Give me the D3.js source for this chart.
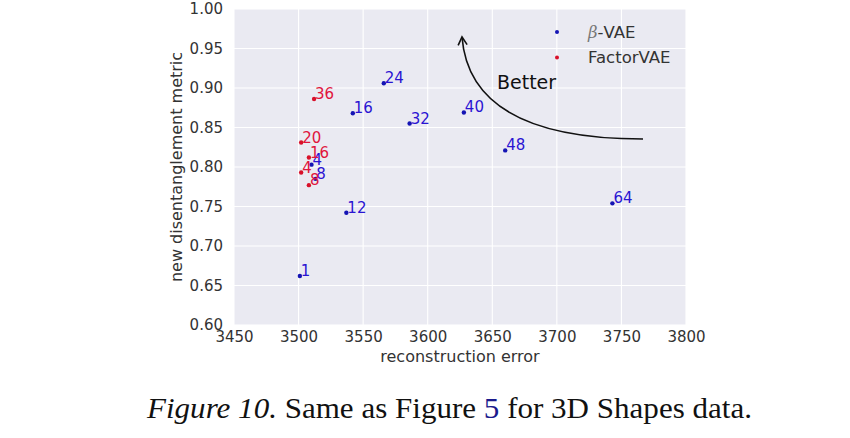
<!DOCTYPE html>
<html>
<head>
<meta charset="utf-8">
<script src="https://cdn.jsdelivr.net/npm/d3@7"></script>
<style>
  body { margin: 0; background: #fff; }
  svg { display: block; }
</style>
</head>
<body>
<div id="chart"></div>
<script>
// beta-VAE points: beta value, reconstruction error, metric
var beta_labels = ["1", "4", "8", "12", "16", "24", "32", "40", "48", "64"];
var beta_x = [3501, 3510, 3513, 3537, 3542, 3566, 3586, 3628, 3660, 3743];
var beta_y = [0.662, 0.803, 0.785, 0.742, 0.868, 0.906, 0.855, 0.869, 0.821, 0.754];

// FactorVAE points
var factor_labels = ["36", "20", "16", "4", "8"];
var factor_x = [3512, 3502, 3508, 3502, 3508];
var factor_y = [0.886, 0.831, 0.812, 0.793, 0.777];

var x_ticks = [3450, 3500, 3550, 3600, 3650, 3700, 3750, 3800];
var y_ticks = [0.60, 0.65, 0.70, 0.75, 0.80, 0.85, 0.90, 0.95, 1.00];

var width = 850, height = 438;
var margin = {left: 234, right: 164, top: 9, bottom: 113};
var blue_dot = "#1414b4", blue_text = "#2a14d2";
var red_dot = "#d8102a", red_text = "#e0143c";

var svg = d3.select("#chart").append("svg")
    .attr("width", width)
    .attr("height", height);

var x = d3.scaleLinear().domain([3450, 3800]).range([margin.left, width - margin.right]);
var y = d3.scaleLinear().domain([0.60, 1.00]).range([height - margin.bottom, margin.top]);

// background
svg.append("rect")
    .attr("x", x(3450)).attr("y", y(1))
    .attr("width", x(3800) - x(3450))
    .attr("height", y(0.6) - y(1))
    .attr("fill", "#eaeaf2");

// grid
svg.selectAll(".xgrid").data(x_ticks).enter().append("line")
    .attr("x1", function(d){ return x(d); }).attr("x2", function(d){ return x(d); })
    .attr("y1", y(1)).attr("y2", y(0.6))
    .attr("stroke", "#fff").attr("stroke-width", 1.1);
svg.selectAll(".ygrid").data(y_ticks).enter().append("line")
    .attr("y1", function(d){ return y(d); }).attr("y2", function(d){ return y(d); })
    .attr("x1", x(3450)).attr("x2", x(3800))
    .attr("stroke", "#fff").attr("stroke-width", 1.1);

// axes, no domain lines or tick marks
var xAxis = svg.append("g")
    .attr("transform", "translate(0," + y(0.6) + ")")
    .call(d3.axisBottom(x).tickValues(x_ticks).tickSize(0).tickPadding(6).tickFormat(d3.format("d")));
var yAxis = svg.append("g")
    .attr("transform", "translate(" + x(3450) + ",0)")
    .call(d3.axisLeft(y).tickValues(y_ticks).tickSize(0).tickPadding(11).tickFormat(d3.format(".2f")));
[xAxis, yAxis].forEach(function(a) {
    a.select(".domain").remove();
    a.selectAll("text")
        .attr("font-family", "DejaVu Sans, sans-serif")
        .attr("font-size", "15px")
        .attr("fill", "#333");
});

svg.append("text")
    .attr("x", (x(3450) + x(3800)) / 2)
    .attr("y", 362)
    .attr("text-anchor", "middle")
    .attr("font-family", "DejaVu Sans, sans-serif")
    .attr("font-size", "16px")
    .attr("fill", "#333")
    .text("reconstruction error");

svg.append("text")
    .attr("transform", "translate(182," + ((y(0.6) + y(1)) / 2) + ") rotate(-90)")
    .attr("text-anchor", "middle")
    .attr("font-family", "DejaVu Sans, sans-serif")
    .attr("font-size", "16px")
    .attr("fill", "#333")
    .text("new disentanglement metric");

// points and labels
function drawSeries(labels, xs, ys, dotColor, textColor) {
    var data = labels.map(function(l, i){ return {label: l, x: xs[i], y: ys[i]}; });
    var g = svg.append("g");
    g.selectAll("circle").data(data).enter().append("circle")
        .attr("cx", function(d){ return x(d.x); })
        .attr("cy", function(d){ return y(d.y); })
        .attr("r", 2.2)
        .attr("fill", dotColor);
    g.selectAll("text").data(data).enter().append("text")
        .attr("x", function(d){ return x(d.x) + 1; })
        .attr("y", function(d){ return y(d.y); })
        .attr("font-family", "DejaVu Sans, sans-serif")
        .attr("font-size", "15px")
        .attr("fill", textColor)
        .text(function(d){ return d.label; });
}
drawSeries(beta_labels, beta_x, beta_y, blue_dot, blue_text);
drawSeries(factor_labels, factor_x, factor_y, red_dot, red_text);

// legend
var legend = [{name: "VAE", color: blue_dot, beta: true}, {name: "FactorVAE", color: red_dot, beta: false}];
var lg = svg.selectAll(".legend").data(legend).enter().append("g")
    .attr("transform", function(d, i){ return "translate(557," + (32 + i * 25.5) + ")"; });
lg.append("circle").attr("r", 2).attr("fill", function(d){ return d.color; });
var lt = lg.append("text")
    .attr("x", 31).attr("y", 5.5)
    .attr("font-family", "DejaVu Sans, sans-serif")
    .attr("font-size", "16.5px")
    .attr("fill", "#333");
lt.filter(function(d){ return d.beta; }).append("tspan")
    .attr("font-family", "DejaVu Serif, serif")
    .attr("font-style", "italic")
    .attr("fill", "#777")
    .text("\u03B2");
lt.append("tspan").text(function(d){ return d.beta ? "-" + d.name : d.name; });

// "Better" arrow
svg.append("defs").append("marker")
    .attr("id", "arrow")
    .attr("viewBox", "0 0 12 12")
    .attr("refX", 10).attr("refY", 6)
    .attr("markerWidth", 12).attr("markerHeight", 12)
    .attr("markerUnits", "userSpaceOnUse")
    .attr("orient", "auto")
    .append("path")
    .attr("d", "M2,1.5 L10,6 L2,10.5")
    .attr("fill", "none")
    .attr("stroke", "#111")
    .attr("stroke-width", 1.6);

svg.append("path")
    .attr("d", "M643,139 Q470,139 462,37")
    .attr("fill", "none")
    .attr("stroke", "#111")
    .attr("stroke-width", 1.6)
    .attr("marker-end", "url(#arrow)");

svg.append("text")
    .attr("x", 497).attr("y", 89)
    .attr("font-family", "DejaVu Sans, sans-serif")
    .attr("font-size", "19px")
    .attr("fill", "#111")
    .text("Better");

// caption
var cap = svg.append("text")
    .attr("x", 147).attr("y", 418)
    .attr("textLength", 605)
    .attr("lengthAdjust", "spacingAndGlyphs")
    .attr("font-family", "Liberation Serif, serif")
    .attr("font-size", "29px")
    .attr("fill", "#111");
cap.append("tspan").attr("font-style", "italic").text("Figure 10.");
cap.append("tspan").text(" Same as Figure ");
cap.append("tspan").attr("fill", "#1a1a8c").text("5");
cap.append("tspan").text(" for 3D Shapes data.");
</script>
</body>
</html>
